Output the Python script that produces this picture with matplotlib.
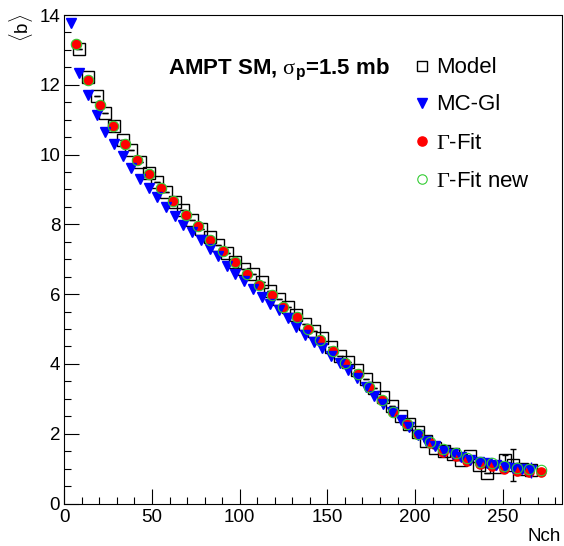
import numpy as np
import matplotlib
matplotlib.use("Agg")
import matplotlib.pyplot as plt

plt.rcParams['font.family'] = ['Liberation Sans', 'DejaVu Sans']
plt.rcParams['mathtext.fontset'] = 'custom'
plt.rcParams['mathtext.rm'] = 'Liberation Serif'
plt.rcParams['mathtext.it'] = 'Liberation Serif:italic'
plt.rcParams['mathtext.sf'] = 'Liberation Sans'
plt.rcParams['mathtext.bf'] = 'Liberation Sans:bold'

# Model (AMPT) points
model_x = [8.6, 13.5, 18.4, 23.4, 28.3, 33.3, 38.2, 43.2, 48.1, 53.1, 58.0, 63.0, 67.9,
           72.9, 77.8, 82.8, 87.7, 92.7, 97.6, 102.6, 107.5, 112.5, 117.4, 122.4, 127.3,
           132.3, 137.2, 142.2, 147.1, 152.1, 157.0, 162.0, 166.9, 171.9, 176.8, 181.8,
           186.7, 191.7, 196.6, 201.6, 206.5, 211.5, 216.4, 221.4, 226.3, 231.3, 236.2,
           241.2, 246.1, 251.1, 256.0, 261.0, 265.9]
model_y = [13.02, 12.23, 11.68, 11.20, 10.82, 10.43, 10.13, 9.80, 9.48, 9.21, 8.93, 8.64, 8.40,
           8.12, 7.87, 7.63, 7.40, 7.17, 6.93, 6.72, 6.58, 6.35, 6.10, 5.86, 5.64,
           5.39, 5.15, 4.95, 4.73, 4.48, 4.24, 4.05, 3.82, 3.56, 3.31, 3.04,
           2.79, 2.52, 2.27, 2.04, 1.80, 1.58, 1.50, 1.42, 1.24, 1.37, 1.10,
           0.88, 1.05, 1.26, 1.10, 1.00, 0.95]
model_err = [0.0] * 49 + [0.13, 0.46, 0.0, 0.0]

# MC-Glauber points
mcgl_x = [3.6, 8.6, 13.5, 18.4, 23.4, 28.3, 33.3, 38.2, 43.2, 48.1, 53.1, 58.0, 63.0, 67.9,
          72.9, 77.8, 82.8, 87.7, 92.7, 97.6, 102.6, 107.5, 112.5, 117.4, 122.4, 127.3,
          132.3, 137.2, 142.2, 147.1, 152.1, 157.0, 162.0, 166.9, 171.9, 176.8, 181.8,
          186.7, 191.7, 196.6, 201.6, 206.5, 211.5, 216.4, 221.4, 226.3, 231.3, 236.2,
          241.2, 246.1, 251.1, 256.0, 261.0, 265.9]
mcgl_y = [13.76, 12.33, 11.70, 11.12, 10.65, 10.30, 9.95, 9.62, 9.30, 9.04, 8.77, 8.50, 8.25, 7.98,
          7.77, 7.54, 7.30, 7.08, 6.82, 6.59, 6.37, 6.15, 5.92, 5.73, 5.54, 5.31,
          5.07, 4.83, 4.64, 4.45, 4.22, 4.03, 3.82, 3.60, 3.35, 3.09, 2.84,
          2.61, 2.40, 2.19, 1.97, 1.80, 1.64, 1.51, 1.43, 1.34, 1.25, 1.19,
          1.15, 1.11, 1.06, 1.02, 0.99, 0.95]
mcgl_err = [0.0] * 53 + [0.23]

# Gamma fit points
gfit_x = [6.5, 13.7, 20.4, 27.6, 34.6, 41.4, 48.5, 55.4, 62.1, 69.4, 76.4, 83.1, 90.3,
          97.3, 104.1, 111.2, 118.2, 124.9, 132.5, 139.1, 145.8, 153.4, 160.0, 167.3,
          173.9, 180.9, 187.6, 195.2, 201.8, 208.5, 216.0, 223.3, 229.8, 237.0, 243.7,
          250.7, 258.0, 265.0, 271.8]
gfit_y = [13.18, 12.14, 11.42, 10.83, 10.31, 9.85, 9.45, 9.05, 8.66, 8.28, 7.94, 7.56, 7.25,
          6.92, 6.58, 6.27, 5.97, 5.63, 5.34, 4.99, 4.68, 4.38, 4.04, 3.70,
          3.34, 2.96, 2.63, 2.29, 1.99, 1.72, 1.47, 1.36, 1.22, 1.12, 1.07,
          1.00, 0.94, 0.90, 0.91]
gfit_new_y = [13.18, 12.14, 11.42, 10.83, 10.31, 9.85, 9.45, 9.05, 8.66, 8.28, 7.94, 7.56, 7.25,
              6.92, 6.58, 6.27, 5.97, 5.63, 5.34, 4.99, 4.68, 4.38, 4.04, 3.70,
              3.34, 2.96, 2.63, 2.29, 1.99, 1.77, 1.55, 1.44, 1.29, 1.20, 1.15,
              1.08, 1.02, 0.98, 0.95]

W, H = 564, 546
fig = plt.figure(figsize=(W / 100, H / 100), dpi=100)
ax = fig.add_axes([64.3 / W, 1 - 503.5 / H, (561.5 - 64.3) / W, (503.5 - 15) / H])

blue = '#0000ff'
red = '#ff0000'
green = '#33cc33'

ax.errorbar(model_x, model_y, yerr=model_err, fmt='s', ms=8, mfc='none', mec='black',
            mew=1.0, ecolor='black', elinewidth=1.0, capsize=2.5, zorder=2)
ax.plot(gfit_x, gfit_y, 'o', ms=6.6, color=red, mec=red, zorder=3)
ax.errorbar(mcgl_x, mcgl_y, yerr=mcgl_err, fmt='v', ms=7.5, color=blue, mec=blue,
            ecolor=blue, elinewidth=1.0, capsize=0, zorder=4)
ax.plot(gfit_x, gfit_new_y, 'o', ms=7.5, mfc='none', mec=green, mew=0.8, zorder=5)

ax.set_xlim(0, 283.5)
ax.set_ylim(0, 14)
ax.set_xticks(np.arange(0, 251, 50))
ax.set_xticks(np.arange(0, 281, 10), minor=True)
ax.set_yticks(np.arange(0, 15, 2))
ax.set_yticks(np.arange(0, 14.1, 0.5), minor=True)
ax.tick_params(which='both', direction='in', top=False, right=False, width=0.8, labelsize=13.5)
ax.tick_params(which='major', length=10.8)
ax.tick_params(which='minor', length=5)
ax.tick_params(axis='x', pad=4)
ax.tick_params(axis='y', pad=3)
for s in ax.spines.values():
    s.set_linewidth(0.8)

fig.text(21 / W, 1 - 14 / H, r'$\langle\mathsf{b}\rangle$', rotation=90, ha='center', va='top', fontsize=13.5)
fig.text(561 / W, 1 - 541 / H, 'Nch', ha='right', va='baseline', fontsize=13.5)

fig.text(168 / W, 1 - 74.3 / H, r'AMPT SM, $\mathrm{\sigma}_{\mathbf{p}}$=1.5 mb',
         fontsize=16, fontweight='bold', ha='left', va='baseline')

# legend drawn by hand
leg_x = 421.7
leg_rows = [65.7, 102.7, 141.0, 179.0]
leg_labels = ['Model', 'MC-Gl', r'$\Gamma$-Fit', r'$\Gamma$-Fit new']
leg_styles = [dict(marker='s', ms=7.5, mfc='none', mec='black', mew=1.0),
              dict(marker='v', ms=7, color=blue, mec=blue),
              dict(marker='o', ms=6.6, color=red, mec=red),
              dict(marker='o', ms=6.8, mfc='none', mec=green, mew=0.8)]
for yy, lab, st in zip(leg_rows, leg_labels, leg_styles):
    fig.add_artist(plt.Line2D([leg_x / W], [1 - yy / H], linestyle='none',
                              transform=fig.transFigure, **st))
    fig.text(436 / W, 1 - (yy + 7.6) / H, lab, fontsize=16, ha='left', va='baseline')

fig.savefig('out.png', dpi=100)
